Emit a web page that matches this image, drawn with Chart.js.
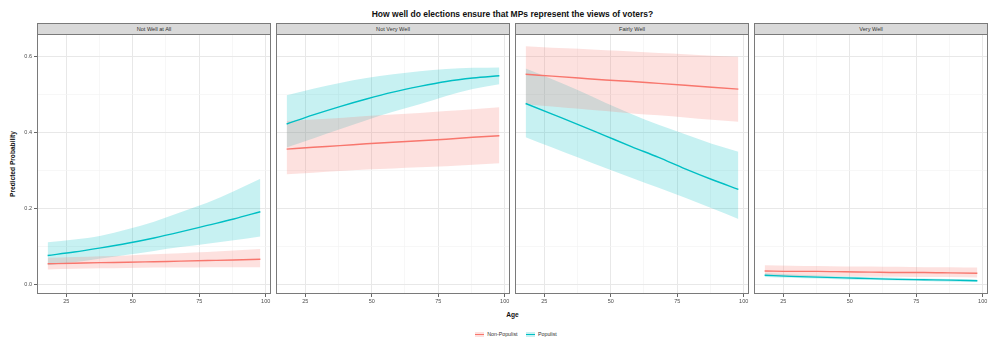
<!DOCTYPE html>
<html>
<head>
<meta charset="utf-8">
<script src="https://cdn.jsdelivr.net/npm/chart.js@4.4.1/dist/chart.umd.min.js"></script>
<style>
  body { margin: 0; background: #fff; font-family: 'Liberation Sans', Arial, sans-serif; }
  #wrap { position: relative; width: 991px; height: 339px; overflow: hidden; }
  .abs { position: absolute; }
  .strip { position: absolute; box-sizing: border-box; background: #d9d9d9; border: 1px solid #7a7a7a;
           font-size: 5.6px; color: #333; text-align: center; line-height: 10px; }
  #title { left: 37px; width: 951px; top: 9px; text-align: center; font-weight: bold; font-size: 8.5px; color: #111; }
  #ylab { left: 12px; top: 164px; transform: translate(-50%, -50%) rotate(-90deg); white-space: nowrap;
          font-weight: bold; font-size: 6.6px; color: #111; }
  #xlab { left: 37px; width: 951px; top: 311px; text-align: center; font-weight: bold; font-size: 6.6px; color: #111; }
  #legend { left: 37px; width: 951px; top: 330px; text-align: center; font-size: 5.3px; color: #333; line-height: 8px; }
  .key { display: inline-block; width: 9px; height: 5px; vertical-align: middle; position: relative; margin: 0 3px 0 7px; }
  .key::after { content: ''; position: absolute; left: 0; right: 0; top: 2px; height: 1px; }
  .k1 { background: rgba(248,118,109,0.22); } .k1::after { background: #F8766D; }
  .k2 { background: rgba(0,191,196,0.22); } .k2::after { background: #00BFC4; }
</style>
</head>
<body>
<div id="wrap">
  <div id="title" class="abs">How well do elections ensure that MPs represent the views of voters?</div>
  <div id="ylab" class="abs">Predicted Probability</div>
  <div id="xlab" class="abs">Age</div>
  <div id="legend" class="abs"><span class="key k1"></span>Non-Populist <span class="key k2"></span>Populist</div>
</div>
<script>
// facets and x values
const panels = ['Not Well at All', 'Not Very Well', 'Fairly Well', 'Very Well'];
const ages = [18, 28, 38, 48, 58, 68, 78, 88, 98];

// Non-Populist: fit and 95% band, one row per facet
const nonPopFit = [
  [0.054, 0.0555, 0.057, 0.058, 0.0595, 0.061, 0.0625, 0.064, 0.066],
  [0.356, 0.361, 0.365, 0.370, 0.374, 0.378, 0.382, 0.387, 0.391],
  [0.553, 0.548, 0.543, 0.538, 0.534, 0.529, 0.524, 0.519, 0.514],
  [0.035, 0.034, 0.034, 0.033, 0.032, 0.031, 0.031, 0.030, 0.029]
];
const nonPopHigh = [
  [0.070, 0.072, 0.074, 0.076, 0.079, 0.082, 0.085, 0.089, 0.093],
  [0.430, 0.434, 0.438, 0.443, 0.447, 0.451, 0.456, 0.461, 0.466],
  [0.627, 0.623, 0.620, 0.616, 0.613, 0.609, 0.606, 0.602, 0.599],
  [0.050, 0.049, 0.048, 0.047, 0.047, 0.046, 0.045, 0.045, 0.044]
];
const nonPopLow = [
  [0.039, 0.041, 0.042, 0.043, 0.044, 0.044, 0.045, 0.045, 0.045],
  [0.290, 0.294, 0.298, 0.302, 0.305, 0.308, 0.311, 0.315, 0.319],
  [0.474, 0.468, 0.462, 0.456, 0.450, 0.445, 0.439, 0.433, 0.428],
  [0.022, 0.022, 0.021, 0.021, 0.020, 0.020, 0.019, 0.019, 0.018]
];

// Populist
const popFit = [
  [0.076, 0.085, 0.096, 0.108, 0.122, 0.138, 0.155, 0.172, 0.191],
  [0.422, 0.446, 0.468, 0.488, 0.506, 0.521, 0.534, 0.543, 0.549],
  [0.476, 0.448, 0.420, 0.391, 0.362, 0.334, 0.304, 0.276, 0.250],
  [0.024, 0.021, 0.019, 0.017, 0.015, 0.013, 0.012, 0.011, 0.0095]
];
const popHigh = [
  [0.111, 0.118, 0.128, 0.145, 0.165, 0.190, 0.215, 0.245, 0.278],
  [0.498, 0.515, 0.530, 0.543, 0.553, 0.561, 0.567, 0.570, 0.571],
  [0.568, 0.540, 0.510, 0.478, 0.448, 0.420, 0.395, 0.370, 0.349],
  [0.029, 0.026, 0.023, 0.021, 0.019, 0.017, 0.015, 0.014, 0.013]
];
const popLow = [
  [0.050, 0.058, 0.068, 0.078, 0.088, 0.098, 0.107, 0.116, 0.126],
  [0.360, 0.384, 0.408, 0.432, 0.454, 0.474, 0.496, 0.514, 0.527],
  [0.387, 0.360, 0.333, 0.306, 0.280, 0.254, 0.228, 0.200, 0.172],
  [0.019, 0.017, 0.015, 0.013, 0.012, 0.010, 0.009, 0.007, 0.006]
];

const xTicks = [25, 37.5, 50, 62.5, 75, 87.5, 100];
const yTicks = [0, 0.1, 0.2, 0.3, 0.4, 0.5, 0.6];

const red = '#F8766D', teal = '#00BFC4';
const redFill = 'rgba(248,118,109,0.22)', tealFill = 'rgba(0,191,196,0.22)';

// layout of the facets (pixels)
const panelLeft = [37, 276, 515, 754];
const panelW = 234, plotTop = 34, plotBottom = 294, canvasH = 276;

const isMajorY = v => [0, 0.2, 0.4, 0.6].some(m => Math.abs(m - v) < 1e-9);
const isMajorX = v => v % 25 === 0;

const pts = arr => ages.map((a, k) => ({ x: a, y: arr[k] }));

const borderPlugin = {
    id: 'panelBorder',
    afterDatasetsDraw: (chart) => {
        const a = chart.chartArea, ctx = chart.ctx;
        ctx.save();
        ctx.strokeStyle = '#7a7a7a';
        ctx.lineWidth = 1;
        ctx.strokeRect(a.left + 0.5, a.top + 0.5, a.right - a.left - 1, a.bottom - a.top - 1);
        ctx.restore();
    }
};

const wrap = document.getElementById('wrap');

panels.forEach((name, i) => {
    const strip = document.createElement('div');
    strip.className = 'strip';
    strip.style.left = panelLeft[i] + 'px';
    strip.style.top = '23px';
    strip.style.width = panelW + 'px';
    strip.style.height = '12px';
    strip.textContent = name;
    wrap.appendChild(strip);

    const yAxisW = i === 0 ? panelLeft[0] : 0;
    const holder = document.createElement('div');
    holder.className = 'abs';
    holder.style.left = (panelLeft[i] - yAxisW) + 'px';
    holder.style.top = plotTop + 'px';
    const canvas = document.createElement('canvas');
    canvas.width = panelW + yAxisW;
    canvas.height = canvasH;
    holder.appendChild(canvas);
    wrap.appendChild(holder);

    const band = (hi, lo, fill) => [
        { data: pts(hi), borderWidth: 0, pointRadius: 0, backgroundColor: fill, fill: '+1', cubicInterpolationMode: 'monotone', order: 2 },
        { data: pts(lo), borderWidth: 0, pointRadius: 0, fill: false, cubicInterpolationMode: 'monotone', order: 2 }
    ];

    new Chart(canvas, {
        type: 'line',
        data: {
            datasets: [
                ...band(nonPopHigh[i], nonPopLow[i], redFill),
                ...band(popHigh[i], popLow[i], tealFill),
                { label: 'Non-Populist', data: pts(nonPopFit[i]), borderColor: red, borderWidth: 1.4, pointRadius: 0, fill: false, cubicInterpolationMode: 'monotone', order: 1 },
                { label: 'Populist', data: pts(popFit[i]), borderColor: teal, borderWidth: 1.4, pointRadius: 0, fill: false, cubicInterpolationMode: 'monotone', order: 1 }
            ]
        },
        options: {
            responsive: false,
            animation: false,
            devicePixelRatio: 1,
            layout: { padding: 0 },
            plugins: { legend: { display: false }, tooltip: { enabled: false } },
            scales: {
                x: {
                    type: 'linear',
                    min: 14, max: 102,
                    afterBuildTicks: s => { s.ticks = xTicks.map(v => ({ value: v })); },
                    afterFit: s => { s.height = canvasH - (plotBottom - plotTop); s.paddingLeft = 0; s.paddingRight = 0; },
                    border: { display: false },
                    grid: {
                        color: c => isMajorX(c.tick.value) ? '#e8e8e8' : '#f3f3f3',
                        lineWidth: c => isMajorX(c.tick.value) ? 1 : 0.7,
                        tickColor: c => isMajorX(c.tick.value) ? '#666' : 'rgba(0,0,0,0)',
                        tickLength: 3,
                        drawTicks: true
                    },
                    ticks: {
                        autoSkip: false, maxRotation: 0, padding: 1,
                        color: '#4d4d4d',
                        font: { family: 'Liberation Sans', size: 5.5 },
                        callback: v => isMajorX(v) ? String(v) : ''
                    }
                },
                y: {
                    min: -0.0255, max: 0.659,
                    afterBuildTicks: s => { s.ticks = yTicks.map(v => ({ value: v })); },
                    afterFit: s => { s.width = yAxisW; s.paddingTop = 0; s.paddingBottom = 0; },
                    border: { display: false },
                    grid: {
                        color: c => isMajorY(c.tick.value) ? '#e8e8e8' : '#f3f3f3',
                        lineWidth: c => isMajorY(c.tick.value) ? 1 : 0.7,
                        tickColor: c => isMajorY(c.tick.value) ? '#666' : 'rgba(0,0,0,0)',
                        tickLength: 3,
                        drawTicks: i === 0
                    },
                    ticks: {
                        display: i === 0, padding: 2,
                        color: '#4d4d4d',
                        font: { family: 'Liberation Sans', size: 5.5 },
                        callback: v => isMajorY(v) ? v.toFixed(1) : ''
                    }
                }
            }
        },
        plugins: [borderPlugin]
    });
});
</script>
</body>
</html>
